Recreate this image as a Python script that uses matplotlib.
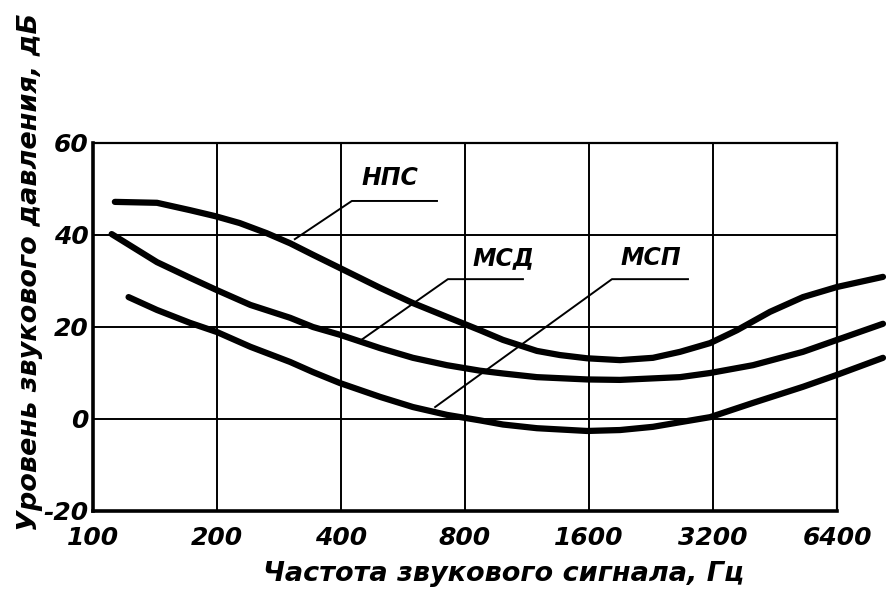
import matplotlib
matplotlib.use("Agg")
import matplotlib.pyplot as plt

plt.rcParams['font.family'] = ['DejaVu Sans']
plt.rcParams['font.style'] = 'italic'
plt.rcParams['font.weight'] = 'bold'

# Частоты (Гц) и уровни (дБ)
f_nps = [113, 143, 172, 198, 227, 264, 301, 342, 398, 498, 598, 723, 870, 989,
         1196, 1360, 1582, 1903, 2288, 2661, 3148, 3659, 4402, 5292, 6400, 8276]
l_nps = [47.2, 47.0, 45.4, 44.1, 42.6, 40.4, 38.2, 35.7, 32.8, 28.5, 25.2, 22.2,
         19.3, 17.2, 14.8, 13.9, 13.2, 12.8, 13.3, 14.6, 16.5, 19.3, 23.3, 26.5,
         28.7, 30.9]

f_msd = [111, 143, 172, 200, 241, 301, 342, 398, 498, 598, 723, 870, 989,
         1196, 1582, 1903, 2661, 3148, 4002, 5292, 6400, 8276]
l_msd = [40.2, 34.1, 30.7, 28.0, 24.8, 22.0, 20.0, 18.3, 15.4, 13.3, 11.7, 10.5,
         9.9, 9.1, 8.6, 8.5, 9.1, 10.0, 11.7, 14.6, 17.2, 20.7]

f_msp = [122, 143, 172, 200, 241, 301, 342, 398, 498, 598, 723, 870, 989,
         1196, 1582, 1903, 2288, 2661, 3148, 4002, 5292, 6400, 8276]
l_msp = [26.5, 23.7, 20.9, 18.9, 15.7, 12.4, 10.2, 7.8, 4.8, 2.6, 0.9, -0.3, -1.2,
         -2.0, -2.6, -2.4, -1.7, -0.7, 0.4, 3.5, 7.0, 9.6, 13.3]

x_ticks = [100, 200, 400, 800, 1600, 3200, 6400]
y_ticks = [-20, 0, 20, 40, 60]

# подписи кривых: (текст, позиция текста, выноска)
labels = [
    ("НПС", (526, 52.4), [(309, 39.1), (425, 47.4), (684, 47.4)]),
    ("МСД", (990, 35.0), [(445, 17.0), (727, 30.4), (1106, 30.4)]),
    ("МСП", (2263, 35.0), [(677, 2.6), (1819, 30.4), (2782, 30.4)]),
]

fig = plt.figure(figsize=(8.87, 5.94), dpi=100)
ax = fig.add_axes([93 / 887, 1 - 511 / 594, 744 / 887, 368 / 594])

ax.set_xscale('log', base=2)
ax.set_xlim(100, 6400)
ax.set_ylim(-20, 60)
ax.set_xticks(x_ticks)
ax.set_xticklabels([str(v) for v in x_ticks])
ax.set_yticks(y_ticks)
ax.set_yticklabels([str(v) for v in y_ticks])
ax.minorticks_off()
ax.tick_params(length=0, labelsize=18)
ax.tick_params(axis='y', pad=3)
ax.tick_params(axis='x', pad=11)
ax.grid(True, color='black', linewidth=1.4)

for side in ['left', 'bottom']:
    ax.spines[side].set_linewidth(2.6)
for side in ['top', 'right']:
    ax.spines[side].set_linewidth(1.6)

for f, l in [(f_nps, l_nps), (f_msd, l_msd), (f_msp, l_msp)]:
    ax.plot(f, l, color='black', linewidth=4.5, solid_capstyle='round',
            solid_joinstyle='round', clip_on=False, zorder=3)

for name, pos, lead in labels:
    ax.plot([p[0] for p in lead], [p[1] for p in lead], color='black',
            linewidth=1.4, zorder=2)
    ax.text(pos[0], pos[1], name, fontsize=17, ha='center', va='center')

fig.text(30 / 887, 1 - 272 / 594, 'Уровень звукового давления, дБ',
         rotation=90, fontsize=19.5, ha='center', va='center')
fig.text(504 / 887, 1 - 574 / 594, 'Частота звукового сигнала, Гц',
         fontsize=19.5, ha='center', va='center')

fig.savefig('out.png', dpi=100, facecolor='white')
